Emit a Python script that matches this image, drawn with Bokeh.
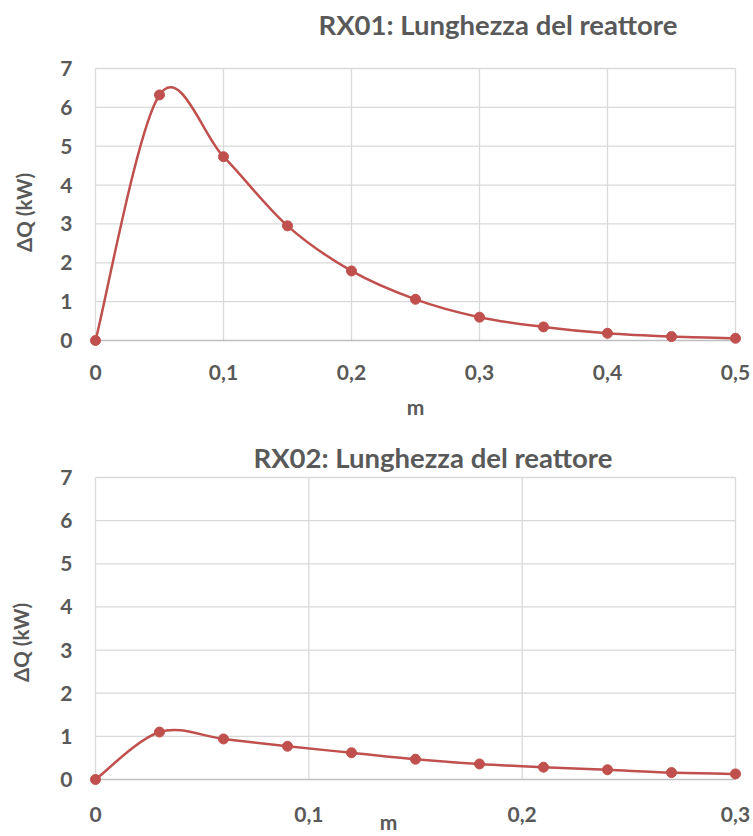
import numpy as np
from bokeh.plotting import figure
from bokeh.layouts import column
from bokeh.models import Range1d, Label
from bokeh.core.properties import value
from bokeh.embed import file_html
from bokeh.resources import INLINE

# ---------------- data ----------------
rx01_title = "RX01: Lunghezza del reattore"
rx01_x = [0.0, 0.05, 0.10, 0.15, 0.20, 0.25, 0.30, 0.35, 0.40, 0.45, 0.50]
rx01_y = [0.0, 6.32, 4.73, 2.95, 1.79, 1.06, 0.60, 0.35, 0.185, 0.10, 0.057]
rx01_xticks = [0.0, 0.1, 0.2, 0.3, 0.4, 0.5]
rx01_xlabels = ["0", "0,1", "0,2", "0,3", "0,4", "0,5"]

rx02_title = "RX02: Lunghezza del reattore"
rx02_x = [0.0, 0.03, 0.06, 0.09, 0.12, 0.15, 0.18, 0.21, 0.24, 0.27, 0.30]
rx02_y = [0.0, 1.10, 0.94, 0.77, 0.62, 0.47, 0.36, 0.285, 0.225, 0.16, 0.13]
rx02_xticks = [0.0, 0.1, 0.2, 0.3]
rx02_xlabels = ["0", "0,1", "0,2", "0,3"]

y_ticks = [0, 1, 2, 3, 4, 5, 6, 7]
y_labels = ["0", "1", "2", "3", "4", "5", "6", "7"]
y_title = "\u0394Q (kW)"
x_title = "m"

FONT = "Lato"
TXT = "#595959"
RED = "#C0504D"
GRID = "#D9D9D9"
AXIS = "#BFBFBF"
W = 753


def smooth_segments(xs, ys):
    """Excel-like smoothed line: cubic Bezier (Catmull-Rom, /6) per segment."""
    xs = np.asarray(xs, float)
    ys = np.asarray(ys, float)
    n = len(xs)
    out = {k: [] for k in ("x0", "y0", "x1", "y1", "cx0", "cy0", "cx1", "cy1")}
    for i in range(n - 1):
        im1 = max(i - 1, 0)
        ip2 = min(i + 2, n - 1)
        out["x0"].append(xs[i]); out["y0"].append(ys[i])
        out["x1"].append(xs[i + 1]); out["y1"].append(ys[i + 1])
        out["cx0"].append(xs[i] + (xs[i + 1] - xs[im1]) / 6.0)
        out["cy0"].append(ys[i] + (ys[i + 1] - ys[im1]) / 6.0)
        out["cx1"].append(xs[i + 1] - (xs[ip2] - xs[i]) / 6.0)
        out["cy1"].append(ys[i + 1] - (ys[ip2] - ys[i]) / 6.0)
    return out


def make_chart(title, xs, ys, xticks, xlabels, height, box, title_pos,
               m_pos, yt_pos, xlab_mid):
    # box = (px of x=0, px of x=max, px of y=7, px of y=0) within this figure
    xl, xr, yt, yb = box
    xmax = xticks[-1]
    kx = xmax / (xr - xl)          # data units per pixel (x)
    ky = 7.0 / (yb - yt)           # data units per pixel (y)
    p = figure(width=W, height=height, output_backend="svg",
               toolbar_location=None, tools="",
               x_axis_location=None, y_axis_location=None,
               x_range=Range1d(-xl * kx, xmax + (W - xr) * kx),
               y_range=Range1d(-(height - yb) * ky, 7 + yt * ky),
               min_border=0, min_border_left=0, min_border_right=0,
               min_border_top=0, min_border_bottom=0)
    p.outline_line_color = None
    p.background_fill_color = "white"
    p.border_fill_color = "white"
    p.xgrid.visible = False
    p.ygrid.visible = False

    def xd(px):
        return (px - xl) * kx

    def yd(px):
        return (yb - px) * ky

    # grid limited to the data box
    p.segment(x0=xticks, y0=[0] * len(xticks), x1=xticks, y1=[7] * len(xticks),
              line_color=GRID, line_width=1.3)
    p.segment(x0=[0] * (len(y_ticks) - 1), y0=y_ticks[1:],
              x1=[xmax] * (len(y_ticks) - 1), y1=y_ticks[1:],
              line_color=GRID, line_width=1.3)
    p.segment(x0=[0], y0=[0], x1=[xmax], y1=[0], line_color=AXIS, line_width=1.6)

    # tick labels
    p.text(x=xticks, y=[yd(xlab_mid)] * len(xticks), text=xlabels,
           text_font=value(FONT), text_font_style="bold", text_font_size="21px",
           text_color=TXT, text_align="center", text_baseline="middle")
    p.text(x=[xd(72)] * len(y_ticks), y=y_ticks, text=y_labels,
           text_font=value(FONT), text_font_style="bold", text_font_size="21px",
           text_color=TXT, text_align="right", text_baseline="middle")

    # series
    seg = smooth_segments(xs, ys)
    p.bezier(x0="x0", y0="y0", x1="x1", y1="y1", cx0="cx0", cy0="cy0",
             cx1="cx1", cy1="cy1", source=seg, line_color=RED, line_width=2.5)
    p.scatter(xs, ys, size=10, fill_color=RED, line_color=RED)

    # titles
    p.add_layout(Label(x=xd(title_pos[0]), y=yd(title_pos[1]), text=title,
                       text_font=FONT, text_font_style="bold",
                       text_font_size="27.5px", text_color=TXT,
                       text_align="left", text_baseline="middle"))
    p.add_layout(Label(x=xd(m_pos[0]), y=yd(m_pos[1]), text=x_title,
                       text_font=FONT, text_font_style="bold",
                       text_font_size="21px", text_color=TXT,
                       text_align="center", text_baseline="middle"))
    p.add_layout(Label(x=xd(yt_pos[0]), y=yd(yt_pos[1]), text=y_title,
                       text_font=FONT, text_font_style="bold",
                       text_font_size="20.5px", text_color=TXT, angle=np.pi / 2,
                       text_align="center", text_baseline="middle"))
    return p


H1 = 420
H2 = 836 - H1
p1 = make_chart(rx01_title, rx01_x, rx01_y, rx01_xticks, rx01_xlabels, H1,
                box=(95, 735, 68, 340), title_pos=(318, 24),
                m_pos=(415, 406), yt_pos=(23, 212), xlab_mid=372)
p2 = make_chart(rx02_title, rx02_x, rx02_y, rx02_xticks, rx02_xlabels, H2,
                box=(95, 735, 477 - H1, 779 - H1), title_pos=(253, 457 - H1),
                m_pos=(388, 821 - H1), yt_pos=(20, 642 - H1), xlab_mid=814 - H1)

layout = column(p1, p2, spacing=0)
open("out.html", "w").write(file_html(layout, INLINE))
